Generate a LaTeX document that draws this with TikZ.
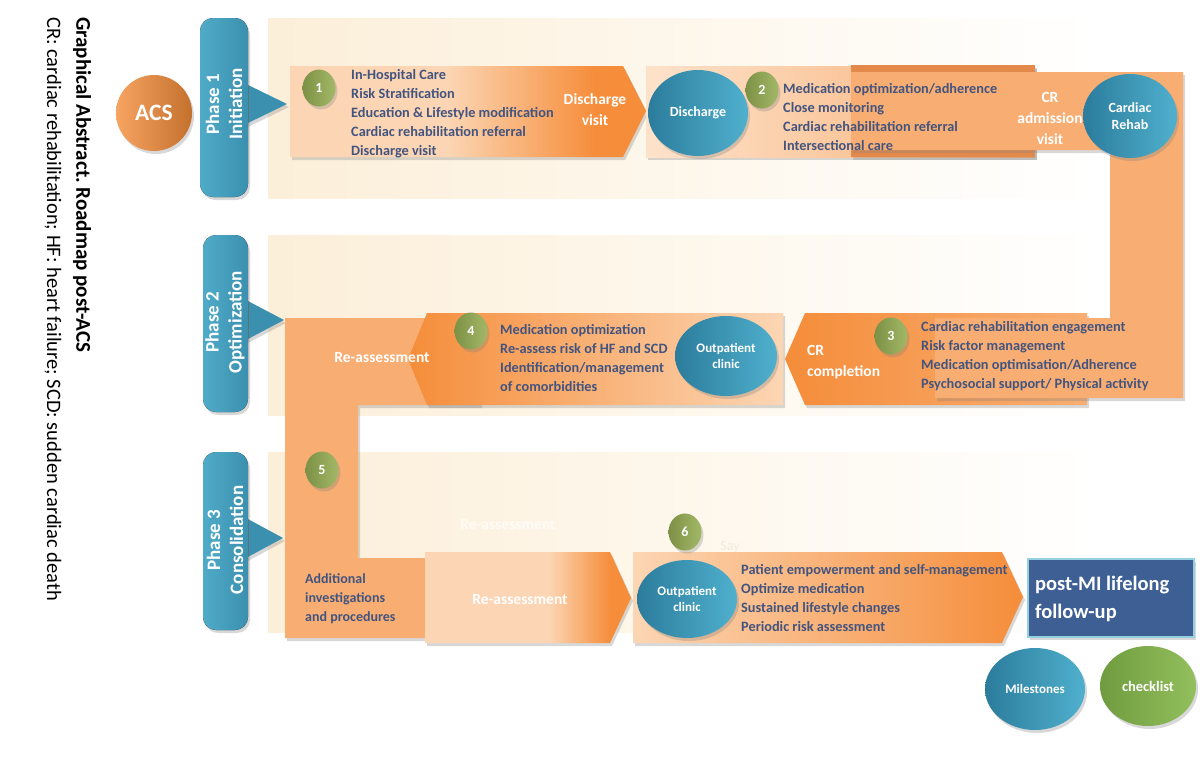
\documentclass[tikz,border=0pt]{standalone}
\usepackage{fontspec}
\setmainfont{Carlito}
\usetikzlibrary{shadows,shapes.geometric}
\definecolor{peachc}{HTML}{FCD6B4}
\definecolor{orngc}{HTML}{F58D3A}
\definecolor{snakec}{HTML}{F8AE73}
\definecolor{slatec}{HTML}{43547F}
\definecolor{teal1}{HTML}{2C7C9C}
\definecolor{teal2}{HTML}{4FB0CD}
\definecolor{olive1}{HTML}{7C9146}
\definecolor{olive2}{HTML}{A3B867}
\definecolor{creamc}{HTML}{FCEFD9}
\definecolor{phase1c}{HTML}{4FABC8}
\definecolor{phase2c}{HTML}{3B90AF}
\definecolor{navyc}{HTML}{3D5F94}
\definecolor{darkorc}{HTML}{E38A4A}
\pgfdeclarehorizontalshading{pto}{100bp}{color(0bp)=(peachc); color(25bp)=(peachc); color(47bp)=(peachc); color(68bp)=(orngc); color(75bp)=(orngc); color(100bp)=(orngc)}
\pgfdeclarehorizontalshading{ptoB}{100bp}{color(0bp)=(peachc); color(25bp)=(peachc); color(55bp)=(peachc); color(70bp)=(orngc); color(75bp)=(orngc); color(100bp)=(orngc)}
\tikzset{
  shad/.style={drop shadow={opacity=0.3,shadow xshift=2pt,shadow yshift=-3pt}},
  listtext/.style={font=\bfseries\fontsize{14.3}{19}\selectfont, text=slatec, align=left, anchor=west, inner sep=0pt},
  whitetext/.style={font=\bfseries\fontsize{15.5}{21}\selectfont, text=white, align=center, inner sep=0pt},
  tealell/.style={ellipse, inner sep=0pt, left color=teal1, right color=teal2, text=white, align=center, font=\bfseries\fontsize{13}{16}\selectfont, shad},
  numc/.style={ellipse, minimum width=33pt, minimum height=37pt, inner sep=0pt, left color=olive1, right color=olive2, text=white, font=\bfseries\fontsize{14}{15}\selectfont, shad},
  phasetext/.style={rotate=90, font=\bfseries\fontsize{19}{23}\selectfont, text=white, align=center, inner sep=0pt},
  band/.style={left color=creamc, right color=white},
}
\begin{document}
\frenchspacing
\begin{tikzpicture}[x=1pt,y=-1pt]
\useasboundingbox (0,0) rectangle (1200,771);
\fill[white] (0,0) rectangle (1200,771);

% background bands
\fill[band] (268,18) rectangle (1100,198);
\fill[band] (268,235) rectangle (1100,415);
\fill[band] (268,452) rectangle (1100,632);

% left captions
\node[rotate=-90, anchor=west, inner sep=0pt, font=\bfseries\fontsize{21}{24}\selectfont] (title) at (82,17) {Graphical Abstract. Roadmap post-ACS};
\node[rotate=-90, anchor=west, inner sep=0pt, font=\fontsize{20.5}{24}\selectfont] (abbr) at (53,17) {CR: cardiac rehabilitation; HF: heart failure; SCD: sudden cardiac death};

% phase callouts
\fill[phase2c, shad] (246,84) -- (287,104) -- (246,124) -- cycle;
\fill[left color=phase1c, right color=phase2c, rounded corners=13pt, shad] (200,18) rectangle (248,197);
\node[phasetext] (ph1) at (224,104) {Phase 1\\Initiation};
\fill[phase2c, shad] (246,300) -- (284,320) -- (246,340) -- cycle;
\fill[left color=phase1c, right color=phase2c, rounded corners=13pt, shad] (203,235) rectangle (248,412);
\node[phasetext] (ph2) at (225,322) {Phase 2\\Optimization};
\fill[phase2c, shad] (246,518) -- (283,538) -- (246,558) -- cycle;
\fill[left color=phase1c, right color=phase2c, rounded corners=13pt, shad] (203,452) rectangle (248,630);
\node[phasetext] (ph3) at (225,540) {Phase 3\\Consolidation};

% ACS
\node[circle, minimum size=76pt, inner sep=0pt, left color=orngc!80!white, right color=orngc!80!black, text=white, font=\bfseries\fontsize{23.5}{26}\selectfont, shad] (acs) at (154,113) {ACS};

% row 2 arrows (under snakes)
\path[left color=orngc, right color=snakec, shad] (785,359) -- (805,313) -- (1087,313) -- (1087,405) -- (805,405) -- cycle;
\path[fill=snakec, shad] (285,318) -- (480,318) -- (480,405) -- (358,405) -- (358,558) -- (480,558) -- (480,638) -- (285,638) -- cycle;
\path[left color=orngc, right color=peachc, shad] (408,359) -- (427,313) -- (783,313) -- (783,405) -- (427,405) -- cycle;

% row 3 re-assessment arrow
\path[shading=ptoB, shad] (425,552) -- (610,552) -- (631,598) -- (610,643) -- (425,643) -- cycle;

% row 1
\path[shading=pto, shad] (290,66) -- (623,66) -- (646,111) -- (623,157) -- (290,157) -- cycle;
\path[left color=peachc!70!white, right color=snakec, shad] (646,66) rectangle (1035,157);
\path[fill=darkorc, shad] (851,65) rectangle (1035,157);
\path[fill=snakec, shad] (851,72) -- (1183,72) -- (1183,398) -- (935,398) -- (935,318) -- (1110,318) -- (1110,150) -- (851,150) -- cycle;

% row 3 arrow 6
\path[left color=peachc, right color=orngc, shad] (633,552) -- (1002,552) -- (1023,597) -- (1002,643) -- (633,643) -- cycle;

% post-MI box
\node[draw=teal2!60!white, line width=1.5pt, fill=navyc, minimum width=166pt, minimum height=78pt, shad] (postmi) at (1111,598) {};
\node[anchor=west, inner sep=0pt, text=white, align=left, font=\bfseries\fontsize{20.5}{28}\selectfont] (postmitxt) at (1035,599) {post-MI lifelong\\follow-up};

% ellipses
\node[tealell, minimum width=100pt, minimum height=86pt, font=\bfseries\fontsize{14}{16}\selectfont] (dis) at (698,113) {Discharge};
\node[tealell, minimum width=94pt, minimum height=84pt, font=\bfseries\fontsize{14}{17}\selectfont] (crehab) at (1130,116) {Cardiac\\Rehab};
\node[tealell, minimum width=102pt, minimum height=80pt] (op1) at (726,356) {Outpatient\\clinic};
\node[tealell, minimum width=100pt, minimum height=78pt] (op2) at (687,599) {Outpatient\\clinic};
\node[tealell, minimum width=100pt, minimum height=82pt] (miles) at (1035,689) {Milestones};
\node[ellipse, minimum width=96pt, minimum height=80pt, inner sep=0pt, left color=olive1!90!green, right color=olive2!90!green, text=white, font=\bfseries\fontsize{14.5}{16}\selectfont, shad] (check) at (1148,686) {checklist};

% number circles
\node[numc] (n1) at (319,88) {1};
\node[numc] (n2) at (762,90) {2};
\node[numc] (n3) at (891,336) {3};
\node[numc] (n4) at (471,331) {4};
\node[numc] (n5) at (322,470) {5};
\node[numc] (n6) at (685,532) {6};

% lists
\node[listtext] (l1) at (351,114) {In-Hospital Care\\Risk Stratification\\Education \& Lifestyle modification\\Cardiac rehabilitation referral\\Discharge visit};
\node[listtext] (l2) at (783,117) {Medication optimization/adherence\\Close monitoring\\Cardiac rehabilitation referral\\Intersectional care};
\node[listtext] (l3) at (921,356) {Cardiac rehabilitation engagement\\Risk factor management\\Medication optimisation/Adherence\\Psychosocial support/ Physical activity};
\node[listtext] (l4) at (500,358) {Medication optimization\\Re-assess risk of HF and SCD\\Identification/management\\of comorbidities};
\node[listtext] (l6) at (741,598) {Patient empowerment and self-management\\Optimize medication\\Sustained lifestyle changes\\Periodic risk assessment};
\node[listtext, font=\bfseries\fontsize{14}{19}\selectfont] (l5) at (305,599) {Additional\\investigations\\and procedures};

% white labels
\node[whitetext] (dvisit) at (595,110) {Discharge\\visit};
\node[whitetext] (cradm) at (1050,118) {CR\\admission\\visit};
\node[whitetext, anchor=west, align=left] (crcomp) at (807,362) {CR\\completion};
\node[whitetext] (reass1) at (382,358) {Re-assessment};
\node[whitetext] (reass2) at (520,600) {Re-assessment};
\node[whitetext, text=white, opacity=0.75] (reassfaint) at (508,525) {Re-assessment};
\node[inner sep=0pt, text=creamc!80!black, opacity=0.25, font=\fontsize{14}{16}\selectfont] (say) at (730,547) {Say};
\end{tikzpicture}
\end{document}
